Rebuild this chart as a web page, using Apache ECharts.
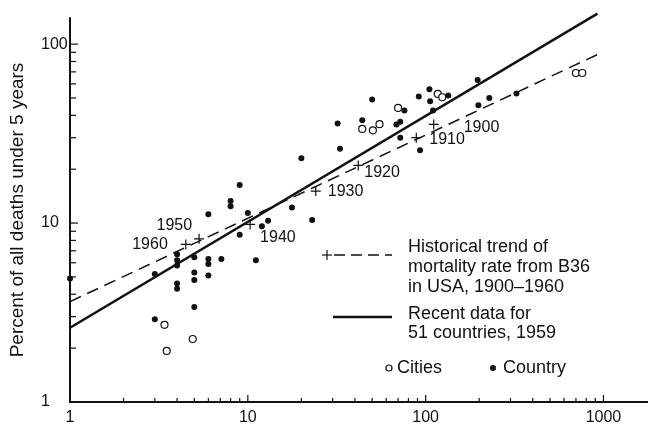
<!DOCTYPE html>
<html>
<head>
<meta charset="utf-8">
<script src="https://cdn.jsdelivr.net/npm/echarts@6/dist/echarts.min.js"></script>
<style>
  html, body { margin: 0; padding: 0; background: #fff; }
  #chart { width: 648px; height: 427px; }
</style>
</head>
<body>
<div id="chart"></div>
<script>
// scatter points [x, percent]
var countryPts = [
  [1, 4.9], [3.0, 5.2], [3.0, 2.9], [5.0, 3.4],
  [4.0, 6.7], [4.0, 6.2], [4.0, 5.8], [4.0, 4.6], [4.0, 4.3],
  [5.0, 6.45], [5.0, 5.3], [5.0, 4.8],
  [6.0, 11.2], [6.0, 6.3], [6.0, 5.9], [6.0, 5.1],
  [7.1, 6.3], [8.0, 13.3], [8.0, 12.4], [9.0, 16.3], [9.0, 8.6],
  [10, 11.4], [11.1, 6.2], [12, 9.6], [13, 10.3],
  [17.7, 12.2], [20, 23], [23, 10.4],
  [32, 36], [33, 26], [44, 37.5], [50, 49],
  [68.5, 35.6], [72, 36.8], [76, 42.6], [72, 30],
  [91.5, 51], [93, 25.5], [105, 56], [106, 48], [110, 42.6], [134, 51.7],
  [196, 63], [198, 45.5], [228, 50], [324, 53]
]
var citiesPts = [
  [3.4, 2.7], [3.5, 1.93], [4.9, 2.25],
  [44, 33.6], [50.5, 33], [55, 35.7], [70, 44],
  [117, 52.7], [124, 50.5], [700, 69], [760, 69]
]
// trend lines (end points)
var histTrend = [[1, 3.64], [960, 89]]
var recentTrend = [[1, 2.6], [925, 148]]
// year marks on the historical trend
var yearNames = ['1900', '1910', '1920', '1930', '1940', '1950', '1960']
var yearX = [111, 88.6, 41.8, 24.1, 10.3, 5.32, 4.48]
var yearY = [35.6, 30.0, 21.0, 15.1, 9.83, 8.17, 7.6]
// axis ticks
var xTickVals = [2, 3, 4, 5, 6, 7, 8, 9, 10, 20, 30, 40, 50, 60, 70, 80, 90, 100,
  200, 300, 400, 500, 600, 700, 800, 900, 1000]
var yTickVals = [2, 3, 4, 5, 6, 7, 8, 9, 10, 20, 30, 40, 50, 60, 70, 80, 90, 100]

var ink = '#111'
var font = '"Liberation Sans", Arial, sans-serif'

// label placement for each year mark
var yearLabelPos = {
  '1900': { position: 'right', offset: [20, 3] },
  '1910': { position: 'right', offset: [3, 2] },
  '1920': { position: 'right', offset: [-4, 7] },
  '1930': { position: 'right', offset: [2, 1] },
  '1940': { position: 'right', offset: [0, 13] },
  '1950': { position: 'left', offset: [3, -13] },
  '1960': { position: 'left', offset: [-8, 0] }
}

function isDecade(v) {
  var l = Math.log10(v)
  return Math.abs(l - Math.round(l)) < 1e-6
}

var chart = echarts.init(document.getElementById('chart'))

chart.setOption({
  animation: false,
  backgroundColor: '#fff',
  grid: { left: 67, right: 0, top: 18, bottom: 25 },
  xAxis: {
    type: 'log',
    logBase: 10,
    min: 1,
    max: 1780,
    axisLine: { lineStyle: { color: ink, width: 2 } },
    axisTick: { show: false },
    splitLine: { show: false },
    axisLabel: {
      color: ink,
      fontSize: 16,
      fontFamily: font,
      margin: 8,
      showMaxLabel: false,
      formatter: function(v) {
        return isDecade(v) ? String(Math.round(v)) : ''
      }
    }
  },
  yAxis: {
    type: 'log',
    logBase: 10,
    min: 1,
    max: 140,
    name: 'Percent of all deaths under 5 years',
    nameLocation: 'middle',
    nameGap: 43,
    nameTextStyle: { color: ink, fontSize: 19, fontFamily: font },
    axisLine: { lineStyle: { color: ink, width: 2 } },
    axisTick: { show: false },
    splitLine: { show: false },
    axisLabel: {
      color: ink,
      fontSize: 16,
      fontFamily: font,
      align: 'left',
      margin: 29,
      showMaxLabel: false,
      formatter: function(v) {
        return isDecade(v) ? String(Math.round(v)) : ''
      }
    }
  },
  graphic: [
    // historical trend legend
    { type: 'line', shape: { x1: 322, y1: 255, x2: 332, y2: 255 }, style: { stroke: ink, lineWidth: 1.2 } },
    { type: 'line', shape: { x1: 327, y1: 250, x2: 327, y2: 260 }, style: { stroke: ink, lineWidth: 1.2 } },
    { type: 'line', shape: { x1: 334, y1: 255, x2: 392, y2: 255 }, style: { stroke: ink, lineWidth: 1.5, lineDash: [11, 6] } },
    { type: 'text', x: 408, y: 237, style: { text: 'Historical trend of\nmortality rate from B36\nin USA, 1900\u20131960', fill: ink, fontSize: 18, fontFamily: font, lineHeight: 20 } },
    // recent data legend
    { type: 'line', shape: { x1: 333, y1: 317, x2: 392, y2: 317 }, style: { stroke: ink, lineWidth: 2.5 } },
    { type: 'text', x: 408, y: 305, style: { text: 'Recent data for\n51 countries, 1959', fill: ink, fontSize: 18, fontFamily: font, lineHeight: 19 } },
    // point legend
    { type: 'circle', shape: { cx: 389, cy: 368, r: 3 }, style: { fill: '#fff', stroke: ink, lineWidth: 1.2 } },
    { type: 'text', x: 397, y: 368, style: { text: 'Cities', fill: ink, fontSize: 18, fontFamily: font, verticalAlign: 'middle' } },
    { type: 'circle', shape: { cx: 493, cy: 368, r: 3 }, style: { fill: ink } },
    { type: 'text', x: 503, y: 368, style: { text: 'Country', fill: ink, fontSize: 18, fontFamily: font, verticalAlign: 'middle' } }
  ],
  series: [
    {
      name: 'Recent data',
      type: 'line',
      data: recentTrend,
      symbol: 'none',
      clip: false,
      lineStyle: { color: ink, width: 2.5 }
    },
    {
      name: 'Historical trend',
      type: 'line',
      data: histTrend,
      symbol: 'none',
      clip: false,
      lineStyle: { color: ink, width: 1.5, type: [12, 7] }
    },
    {
      name: 'Years',
      type: 'scatter',
      symbol: 'path://M4.4,0h1.2v10h-1.2zM0,4.4h10v1.2h-10z',
      symbolSize: 10,
      itemStyle: { color: ink, opacity: 1 },
      data: yearNames.map(function(n, i) {
        var p = yearLabelPos[n]
        return {
          value: [yearX[i], yearY[i]],
          label: {
            show: true,
            formatter: n,
            position: p.position,
            distance: 5,
            offset: p.offset,
            color: ink,
            fontSize: 16,
            fontFamily: font
          }
        }
      })
    },
    {
      name: 'Country',
      type: 'scatter',
      symbolSize: 6,
      itemStyle: { color: ink, opacity: 1 },
      data: countryPts
    },
    {
      name: 'Cities',
      type: 'scatter',
      symbolSize: 7,
      itemStyle: { color: '#fff', borderColor: ink, borderWidth: 1.2, opacity: 1 },
      data: citiesPts
    },
    {
      // x axis ticks, pointing up into the plot
      type: 'custom',
      silent: true,
      data: xTickVals.map(function(v) { return [v, 1] }),
      renderItem: function(params, api) {
        var v = api.value(0)
        var p = api.coord([v, 1])
        var len = isDecade(v) ? 7 : 4
        return {
          type: 'line',
          shape: { x1: p[0], y1: p[1], x2: p[0], y2: p[1] - len },
          style: { stroke: ink, lineWidth: 1.2 }
        }
      }
    },
    {
      // y axis ticks, pointing right into the plot
      type: 'custom',
      silent: true,
      data: yTickVals.map(function(v) { return [1, v] }),
      renderItem: function(params, api) {
        var v = api.value(1)
        var p = api.coord([1, v])
        var len = isDecade(v) ? 8 : 6
        return {
          type: 'line',
          shape: { x1: p[0], y1: p[1], x2: p[0] + len, y2: p[1] },
          style: { stroke: ink, lineWidth: 1.2 }
        }
      }
    }
  ]
})
</script>
</body>
</html>
